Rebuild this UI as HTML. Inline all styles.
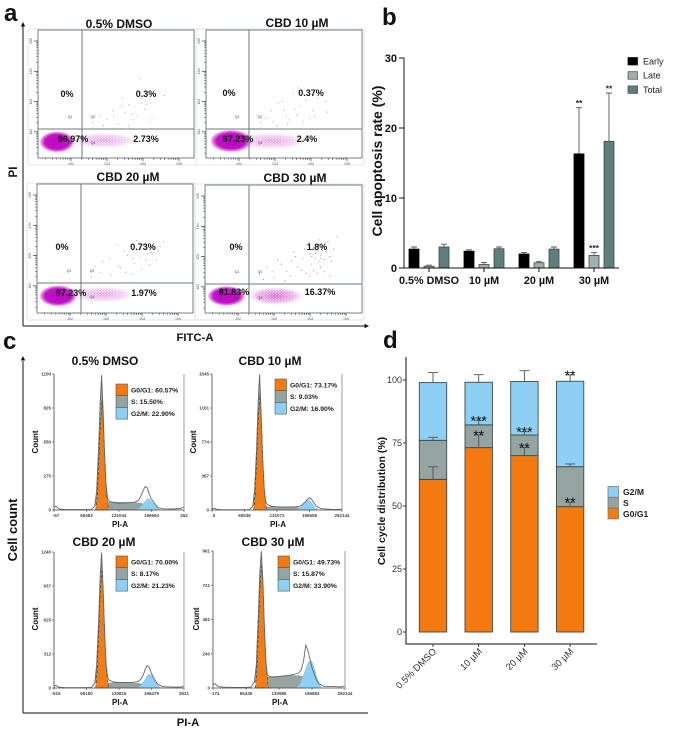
<!DOCTYPE html>
<html lang="en">
<head>
<meta charset="utf-8">
<title>CBD apoptosis and cell cycle figure</title>
<style>
html,body{margin:0;padding:0;background:#fff;width:680px;height:732px;overflow:hidden}
svg{display:block;font-family:"Liberation Sans",Arial,sans-serif;filter:blur(.3px)}
</style>
</head>
<body>
<svg id="fig" width="680" height="732" viewBox="0 0 680 732" xmlns="http://www.w3.org/2000/svg">
<defs>
<radialGradient id="coreGrad"><stop offset="0" stop-color="#bb08c4"/><stop offset=".68" stop-color="#c212c6"/><stop offset=".86" stop-color="#d85fd6" stop-opacity=".75"/><stop offset="1" stop-color="#e6a6e4" stop-opacity="0"/></radialGradient>
<radialGradient id="tailGrad"><stop offset="0" stop-color="#cf3fcc" stop-opacity=".85"/><stop offset=".65" stop-color="#d86dd6" stop-opacity=".55"/><stop offset="1" stop-color="#e6a6e4" stop-opacity="0"/></radialGradient>
<pattern id="speckle" width="3" height="2.6" patternUnits="userSpaceOnUse"><circle cx=".8" cy=".7" r=".55" fill="#fff"/><circle cx="2.3" cy="2" r=".45" fill="#fff"/></pattern>
</defs>
<g font-weight="bold" font-size="24" fill="#111">
<text x="4" y="21">a</text>
<text x="382" y="25">b</text>
<text x="3" y="349">c</text>
<text x="383" y="348">d</text>
</g>
<g fill="#111" stroke="none">
<path d="M23 326V26" stroke="#111" stroke-width="1" fill="none"/>
<path d="M23 22l-2.2 4.5h4.4z"/>
<path d="M23 326H365" stroke="#111" stroke-width="1" fill="none"/>
<path d="M369 326l-4.5-2.2v4.4z"/>
<text transform="translate(17,172) rotate(-90)" text-anchor="middle" font-weight="bold" font-size="11.5">PI</text>
<text x="195" y="341" text-anchor="middle" font-weight="bold" font-size="11.3">FITC-A</text>
</g>
<g fill="#111" stroke="none">
<path d="M23 713V361" stroke="#111" stroke-width="1" fill="none"/>
<path d="M23 356l-2.2 4.5h4.4z"/>
<path d="M23 713H368" stroke="#111" stroke-width="1" fill="none"/>
<text transform="translate(17,530) rotate(-90)" text-anchor="middle" font-weight="bold" font-size="13">Cell count</text>
<text x="188" y="726" text-anchor="middle" font-weight="bold" font-size="11.3">PI-A</text>
</g>
<g id="flow"></g>
<g id="hist"></g>
<g id="apop"></g>
<g id="cycle"></g>
</svg>
<script>
/* ---------- panel b data ---------- */
var apopGroups = ['0.5% DMSO', '10 µM', '20 µM', '30 µM'];
var apopSeries = ['Early', 'Late', 'Total'];
var apopEarly = [2.7, 2.4, 2.0, 16.3];
var apopLate = [0.25, 0.5, 0.75, 1.8];
var apopTotal = [3.0, 2.75, 2.7, 18.1];
var apopEarlyErr = [0.3, 0.2, 0.2, 6.6];
var apopLateErr = [0.15, 0.3, 0.15, 0.4];
var apopTotalErr = [0.4, 0.25, 0.3, 6.9];
var apopEarlyStars = ['', '', '', '**'];
var apopLateStars = ['', '', '', '***'];
var apopTotalStars = ['', '', '', '**'];
var apopTicks = [0, 10, 20, 30];

/* ---------- panel d data ---------- */
var cycleGroups = ['0.5% DMSO', '10 µM', '20 µM', '30 µM'];
var cycleG1 = [60.57, 73.17, 70.0, 49.73];
var cycleS = [15.5, 9.03, 8.17, 15.87];
var cycleG2 = [22.9, 16.9, 21.23, 33.9];
var cycleG1Err = [5, 5, 3.2, 1.8];
var cycleSErr = [1.2, 1.8, 1.3, 1.1];
var cycleG2Err = [4, 3, 4.3, 2.5];
var cycleG1Stars = ['', '**', '**', '**'];
var cycleSStars = ['', '***', '***', ''];
var cycleG2Stars = ['', '', '', '**'];
var cycleTicks = [0, 25, 50, 75, 100];
var cycleLegend = ['G2/M', 'S', 'G0/G1'];

/* ---------- panel a data (log10 decades) ---------- */
var flowTitles = ['0.5% DMSO', 'CBD 10 µM', 'CBD 20 µM', 'CBD 30 µM'];
var flowQ1 = ['0%', '0%', '0%', '0%'];
var flowQ2 = ['0.3%', '0.37%', '0.73%', '1.8%'];
var flowQ3 = ['96.97%', '97.23%', '97.23%', '81.83%'];
var flowQ4 = ['2.73%', '2.4%', '1.97%', '16.37%'];
var flowCoreX = [1.61, 1.78, 1.67, 1.68];
var flowCoreY = [1.67, 1.7, 1.67, 1.7];
var flowCoreRx = [0.5, 0.6, 0.54, 0.54];
var flowCoreRy = [0.36, 0.38, 0.36, 0.34];
var flowTailX = [2.9, 2.9, 2.9, 3.05];
var flowTailY = [1.72, 1.7, 1.72, 1.7];
var flowTailRx = [0.95, 1.0, 0.95, 0.8];
var flowTailRy = [0.26, 0.28, 0.27, 0.3];
var flowTailAlpha = [0.6, 0.6, 0.6, 1];
var flowDotsX = [
  [3.44,3.40,3.95,4.10,4.60,3.90,3.70,3.00,3.20,3.50,3.75,3.85,4.05,2.60,2.90,3.30,3.60,4.20,3.60,2.80,3.15,3.95,4.25],
  [2.90,3.10,3.30,3.50,3.55,3.70,3.85,3.95,4.05,4.20,4.35,4.40,2.60,2.75,3.05,3.25,3.40,3.60,3.80,4.10,3.20,2.50,3.65,3.95,4.45,3.35,2.95],
  [2.90,3.10,3.35,3.50,3.60,3.80,3.90,4.05,4.15,4.25,4.35,4.50,4.60,3.95,4.10,4.30,2.60,2.85,3.15,3.40,3.70,4.00,4.45,3.30,3.55,3.75,4.20,2.70,4.40,3.85],
  [2.60,2.80,3.00,3.20,3.35,3.50,3.65,3.80,3.90,4.00,4.05,4.10,4.15,4.20,4.25,4.30,4.35,4.40,4.45,4.50,4.55,4.65,4.75,2.70,2.95,3.10,3.30,3.45,3.60,3.75,3.85,4.00,4.10,4.20,4.30,4.40,4.55,3.55,3.95,4.25,4.05,4.35,4.15,4.30,4.45,4.60]
];
var flowDotsY = [
  [3.12,2.85,2.95,2.90,3.20,3.75,2.60,2.40,2.50,2.65,2.40,2.50,2.75,2.30,2.20,2.25,2.20,2.30,2.90,2.55,2.70,3.10,2.45],
  [2.70,2.95,2.50,3.25,2.75,2.85,3.05,3.20,2.70,3.10,3.30,3.00,2.30,2.45,2.20,2.70,2.40,2.55,2.35,2.50,3.00,2.55,3.45,2.45,2.65,2.25,2.35],
  [2.80,2.90,2.65,3.15,3.00,2.75,3.20,3.35,3.05,3.10,3.25,3.30,3.45,2.95,2.85,3.05,2.30,2.45,2.35,2.60,2.40,2.55,3.15,3.35,2.45,2.90,2.70,2.65,2.85,3.50],
  [2.40,2.65,2.30,2.75,2.50,2.85,2.65,2.95,2.45,3.10,2.75,3.30,2.95,3.20,2.85,3.05,3.35,2.90,3.15,3.50,3.00,3.25,3.65,2.25,2.50,2.90,2.20,2.35,3.00,2.55,3.25,2.35,2.55,2.45,2.65,2.50,2.35,3.15,3.45,3.55,3.00,3.20,3.10,2.95,3.35,2.85]
];

/* ---------- panel c data (PI-A in thousands, count per channel) ---------- */
var histTitles = ['0.5% DMSO', 'CBD 10 µM', 'CBD 20 µM', 'CBD 30 µM'];
var histLegendG1 = ['G0/G1: 60.57%', 'G0/G1: 73.17%', 'G0/G1: 70.00%', 'G0/G1: 49.73%'];
var histLegendS = ['S: 15.50%', 'S: 9.03%', 'S: 8.17%', 'S: 15.87%'];
var histLegendG2 = ['G2/M: 22.90%', 'G2/M: 16.90%', 'G2/M: 21.23%', 'G2/M: 33.90%'];
var histMax = [1100, 1545, 1240, 961];
var histYTicks = [['0','275','550','825','1100'], ['0','387','774','1161','1545'], ['0','312','625','937','1240'], ['0','240','481','721','961']];
var histXTicks = [['-57','65493','131044','196594','262'], ['0','65536','131072','196608','262144'], ['-515','65150','130815','196479','2621'], ['-174','65435','130985','196584','262144']];
var piGrid = [0,4,10,20,40,60,75,82,86,90,93,96,99,102,105,108,112,120,130,140,150,160,170,175,180,184,188,192,196,200,205,210,220,240,255,262];
var histOutline = [
  [25,30,8,4,3,3,5,30,150,500,850,1090,800,450,200,90,70,60,55,55,60,60,75,110,160,190,180,130,90,70,40,20,10,8,12,25],
  [15,20,6,3,2,2,4,40,220,700,1200,1540,1100,600,260,100,60,42,38,35,35,35,38,42,50,70,90,120,140,125,85,45,15,8,6,10],
  [20,25,6,4,3,3,5,40,200,600,1000,1235,900,500,220,95,70,55,50,50,50,52,58,80,120,170,205,190,140,100,60,30,12,8,8,15],
  [25,30,10,6,4,4,6,40,160,500,800,958,750,420,180,90,80,78,80,85,88,95,105,125,190,300,270,210,150,110,60,30,12,10,8,15]
];
var g1Grid = [84,87,90,93,97,100,103,106,110];
var g1Model = [
  [0,100,350,650,890,620,330,120,0],
  [0,170,550,1000,1330,950,500,170,0],
  [0,150,480,850,1110,800,420,140,0],
  [0,120,400,680,880,640,350,130,0]
];
var sGrid = [84,92,100,105,120,140,160,175,185,195,205];
var sModel = [
  [0,20,40,62,65,62,60,55,40,15,0],
  [0,12,22,32,36,35,33,28,18,6,0],
  [0,15,30,42,48,48,46,40,28,10,0],
  [0,30,60,75,80,85,88,85,65,25,0]
];
var g2Grid = [165,172,178,184,190,196,202,208,215];
var g2Model = [
  [0,15,40,70,95,75,45,20,0],
  [0,8,30,65,110,115,75,30,0],
  [0,12,40,80,125,120,70,25,0],
  [0,25,70,135,185,190,130,55,0]
];

var NS = 'http://www.w3.org/2000/svg';
function mk(tag, attrs, parent) {
  var el = document.createElementNS(NS, tag);
  for (var k in attrs) { el.setAttribute(k, attrs[k]); }
  parent.appendChild(el);
  return el;
}
function label(str, x, y, size, weight, anchor, fill, parent, rot) {
  var a = {x: x, y: y, 'font-size': size, 'font-weight': weight, 'text-anchor': anchor, fill: fill};
  if (rot) { a = {transform: 'translate(' + x + ',' + y + ') rotate(' + rot + ')', 'font-size': size, 'font-weight': weight, 'text-anchor': anchor, fill: fill}; }
  var el = mk('text', a, parent);
  el.textContent = str;
  return el;
}

/* ---------- panel a ---------- */
(function () {
  var root = document.getElementById('flow');
  var frames = [[38,30,194,158,82,129],[206,30,362,158,249,129],[37,184,193,313,81,283],[205,185,362,313,249,284]];
  var titleX = [119, 297, 128, 295];
  var titleY = [28, 27, 181, 182];
  var q1Off = [[29,-35],[24,-36],[25,-36],[31,-37]];
  var q2Off = [[64,-35],[62,-36],[62,-36],[68,-37]];
  var q3Off = [[-9,10],[-11,10],[-10,10],[-15,8]];
  var q4Off = [[64,10],[58,10],[63,10],[71,8]];
  frames.forEach(function (f, p) {
    var L = f[0], T = f[1], R = f[2], B = f[3], gx = f[4], gy = f[5];
    var fx = function (d) { return L + 33 + (d - 2) * 36; };
    var fy = function (d) { return T + 11 + (5 - d) * 30.3; };
    var g = mk('g', {}, root);
    
    
    var outer = mk('rect', {x: L - 10, y: T - 1, width: R - L + 12, height: B - T + 8, fill: 'none', stroke: '#dedede', 'stroke-width': 0.8}, g);
    
    
    var title = label(flowTitles[p], titleX[p], titleY[p], 12, 'bold', 'middle', '#111', g);
    
    
    var tail = mk('ellipse', {cx: fx(flowTailX[p]), cy: fy(flowTailY[p]), rx: flowTailRx[p] * 36, ry: flowTailRy[p] * 30.3, fill: 'url(#tailGrad)', opacity: flowTailAlpha[p]}, g);
    
    
    var speck = mk('ellipse', {cx: fx(flowTailX[p]), cy: fy(flowTailY[p]), rx: flowTailRx[p] * 36, ry: flowTailRy[p] * 30.3, fill: 'url(#speckle)'}, g);
    
    
    var core = mk('ellipse', {cx: fx(flowCoreX[p]), cy: fy(flowCoreY[p]), rx: flowCoreRx[p] * 36, ry: flowCoreRy[p] * 30.3, fill: 'url(#coreGrad)'}, g);
    
    
    flowDotsX[p].forEach(function (dx, i) {
      var dot = mk('circle', {cx: fx(dx), cy: fy(flowDotsY[p][i]), r: 0.55, fill: p === 3 ? '#b060ae' : '#a88fa6'}, g);
      
      
    });
    var frame = mk('rect', {x: L, y: T, width: R - L, height: B - T, fill: 'none', stroke: '#74807f', 'stroke-width': 1}, g);
    
    
    var vg = mk('line', {x1: gx, x2: gx, y1: T, y2: B, stroke: '#6c7877', 'stroke-width': 1}, g);
    
    
    var hg = mk('line', {x1: L, x2: R, y1: gy, y2: gy, stroke: '#6c7877', 'stroke-width': 1}, g);
    
    
    [2, 3, 4, 5].forEach(function (dec) {
      var tx = mk('line', {x1: fx(dec), x2: fx(dec), y1: B, y2: B + 3, stroke: '#333', 'stroke-width': 0.7}, g);
      
      
      var lx = label('10' + dec, fx(dec), B + 7, 3.6, 'normal', 'middle', '#555', g);
      
      
      var ty = mk('line', {x1: L - 4, x2: L, y1: fy(dec), y2: fy(dec), stroke: '#333', 'stroke-width': 0.7}, g);
      
      
      var ly = label('10' + dec, L - 6, fy(dec), 3.6, 'normal', 'middle', '#555', g, -90);
      
      
      [0.3, 0.48, 0.6, 0.7, 0.78, 0.85, 0.9, 0.95].forEach(function (m) {
        if (dec < 5) {
          var mt = mk('line', {x1: fx(dec + m), x2: fx(dec + m), y1: B, y2: B + 1.8, stroke: '#444', 'stroke-width': 0.5}, g);
          
          
        }
        var mb = mk('line', {x1: fx(dec - 1 + m), x2: fx(dec - 1 + m), y1: B, y2: B + 1.8, stroke: '#444', 'stroke-width': 0.5}, g);
        
        
        var my = mk('line', {x1: L - 2, x2: L, y1: fy(dec - 1 + m), y2: fy(dec - 1 + m), stroke: '#444', 'stroke-width': 0.5}, g);
        
        
      });
    });
    var names = ['Q1', 'Q2', 'Q3', 'Q4'];
    var px = [gx - 12, gx + 11, gx - 12, gx + 11];
    var py = [gy - 11, gy - 11, gy + 15, gy + 15];
    names.forEach(function (n, i) {
      var q = label(n, px[i], py[i], 3.6, 'normal', 'middle', '#444', g);
      
      
    });
    var a = label(flowQ1[p], gx + q1Off[p][0] - 44, gy + q1Off[p][1] + 3, 9, 'bold', 'middle', '#111', g);
    
    
    var b = label(flowQ2[p], gx + q2Off[p][0], gy + q2Off[p][1] + 3, 9, 'bold', 'middle', '#111', g);
    
    
    var c = label(flowQ3[p], gx + q3Off[p][0], gy + q3Off[p][1] + 3, 9, 'bold', 'middle', '#111', g);
    
    
    var d = label(flowQ4[p], gx + q4Off[p][0], gy + q4Off[p][1] + 3, 9, 'bold', 'middle', '#111', g);
    
    
  });
})();

/* ---------- panel c ---------- */
(function () {
  var root = document.getElementById('hist');
  var frames = [[54,374,184,510],[212,374,342,510],[54,552,184,688],[213,551,345,688]];
  var titlePos = [[105,365],[270,365],[104,546],[273,546]];
  var legendPos = [[116,384],[275,379],[116,556],[278,556]];
  var countPos = [[38,442],[196,442],[38,619],[199,619]];
  var piaPos = [[120,527],[278,527],[120,705],[280,705]];
  frames.forEach(function (f, p) {
    var L = f[0], T = f[1], R = f[2], B = f[3];
    var hx = function (k) { return L + k / 262.144 * (R - L); };
    var hy = function (c) { return B - c / histMax[p] * (B - T); };
    var g = mk('g', {}, root);
    
    
    var area = function (xs, ys) {
      var d = '';
      xs.forEach(function (x, i) { d += (i ? 'L' : 'M') + hx(x).toFixed(1) + ' ' + hy(ys[i]).toFixed(1); });
      return d;
    };
    var peakX = piGrid.filter(function (k) { return k >= 82 && k <= 108; });
    var peakY = histOutline[p].filter(function (c, i) { return piGrid[i] >= 82 && piGrid[i] <= 108; });
    var peakFill = mk('path', {d: area(peakX, peakY) + 'Z', fill: '#9aa5a4'}, g);
    
    
    var sFill = mk('path', {d: area(sGrid, sModel[p]) + 'Z', fill: '#95a3a1', stroke: '#7f8c8a', 'stroke-width': 0.4}, g);
    
    
    var g2Fill = mk('path', {d: area(g2Grid, g2Model[p]) + 'Z', fill: '#8ecff5', stroke: '#79b4d6', 'stroke-width': 0.4}, g);
    
    
    var g1Fill = mk('path', {d: area(g1Grid, g1Model[p]) + 'Z', fill: '#f47a10', 'fill-opacity': 0.95, stroke: '#222', 'stroke-width': 0.5, 'stroke-dasharray': '3 2'}, g);
    
    
    var line = mk('path', {d: area(piGrid, histOutline[p]), fill: 'none', stroke: '#666', 'stroke-width': 0.9}, g);
    
    
    var ax = mk('path', {d: 'M' + L + ' ' + T + 'V' + B + 'H' + R, fill: 'none', stroke: '#444', 'stroke-width': 0.8}, g);
    
    
    var right = mk('line', {x1: R, x2: R, y1: T, y2: B, stroke: '#a4a8a8', 'stroke-width': 1.1}, g);
    
    
    histYTicks[p].forEach(function (tl, i) {
      var y = B - i / 4 * (B - T);
      var tk = mk('line', {x1: L - 2, x2: L, y1: y, y2: y, stroke: '#444', 'stroke-width': 0.6}, g);
      
      
      var tt = label(tl, L - 3, y + 1.6, 4.5, 'bold', 'end', '#444', g);
      
      
    });
    histXTicks[p].forEach(function (tl, i) {
      var x = L + i / 4 * (R - L);
      var tk = mk('line', {x1: x, x2: x, y1: B, y2: B + 2, stroke: '#444', 'stroke-width': 0.6}, g);
      
      
      var tt = label(tl, x + (i === 0 ? 2 : 0), B + 7, 4.5, 'bold', 'middle', '#444', g);
      
      
    });
    var title = label(histTitles[p], titlePos[p][0], titlePos[p][1], 12, 'bold', 'middle', '#111', g);
    
    
    var count = label('Count', countPos[p][0], countPos[p][1], 8, 'bold', 'middle', '#111', g, -90);
    
    
    var pia = label('PI-A', piaPos[p][0], piaPos[p][1], 8, 'bold', 'middle', '#111', g);
    
    
    var lx = legendPos[p][0], ly = legendPos[p][1];
    var swatches = ['#f47a10', '#95a3a1', '#8ecff5'];
    var texts = [histLegendG1[p], histLegendS[p], histLegendG2[p]];
    swatches.forEach(function (col, i) {
      var sw = mk('rect', {x: lx, y: ly + i * 11.7, width: 11.5, height: 11.7, fill: col, stroke: '#4c5a5a', 'stroke-width': 0.6}, g);
      
      
      var te = label(texts[i], lx + 15, ly + 8.3 + i * 11.9, 6.8, 'bold', 'start', '#222', g);
      
      
    });
  });
})();

/* ---------- panel b ---------- */
(function () {
  var root = document.getElementById('apop');
  var by = function (v) { return 268 - v / 30 * 210; };
  var bx = function (g, s) { return 414 + g * 55 + s * 15; };
  var fills = ['#000000', '#9fb0af', '#5f7f7f'];
  var vals = [apopEarly, apopLate, apopTotal];
  var errs = [apopEarlyErr, apopLateErr, apopTotalErr];
  var stars = [apopEarlyStars, apopLateStars, apopTotalStars];
  apopGroups.forEach(function (name, g) {
    vals.forEach(function (series, s) {
      var x = bx(g, s);
      var v = series[g], e = errs[s][g];
      var eb = mk('path', {d: 'M' + x + ' ' + by(v) + 'V' + by(v + e) + 'M' + (x - 3) + ' ' + by(v + e) + 'H' + (x + 3), stroke: '#555', 'stroke-width': 0.9, fill: 'none'}, root);
      
      
      var bar = mk('rect', {x: x - 5, y: by(v), width: 10, height: by(0) - by(v), fill: fills[s], stroke: s ? '#3a4a4a' : '#000', 'stroke-width': 0.8}, root);
      
      
      if (stars[s][g]) {
        var st = label(stars[s][g], x, by(v + e) - 1.5, 8.5, 'bold', 'middle', '#222', root);
        
        
      }
    });
    var cx = bx(g, 1);
    var tk = mk('line', {x1: cx, x2: cx, y1: 268, y2: 272, stroke: '#111', 'stroke-width': 1}, root);
    
    
    var tl = label(name, cx, 284, 10.8, 'bold', 'middle', '#111', root);
    
    
  });
  var axis = mk('path', {d: 'M404 ' + by(30) + 'V268H619', fill: 'none', stroke: '#111', 'stroke-width': 1}, root);
  
  
  apopTicks.forEach(function (t) {
    var tk = mk('line', {x1: 399, x2: 404, y1: by(t), y2: by(t), stroke: '#111', 'stroke-width': 1}, root);
    
    
    var tl = label(String(t), 397, by(t) + 4, 11, 'bold', 'end', '#111', root);
    
    
  });
  var yt = label('Cell apoptosis rate (%)', 382, 161, 14, 'bold', 'middle', '#111', root, -90);
  
  
  apopSeries.forEach(function (n, i) {
    var sw = mk('rect', {x: 628, y: 57.5 + i * 14.2, width: 9.5, height: 7.5, fill: fills[i], stroke: i ? '#3a4a4a' : '#000', 'stroke-width': 0.7}, root);
    
    
    var te = label(n, 643, 64.5 + i * 14.2, 9, 'normal', 'start', '#222', root);
    
    
  });
})();

/* ---------- panel d ---------- */
(function () {
  var root = document.getElementById('cycle');
  var cy = function (v) { return 632 - v * 2.52; };
  var cx = function (g) { return 433 + g * 45.7; };
  var colors = {g1: '#f47a10', s: '#95a3a1', g2: '#8ecff5'};
  cycleGroups.forEach(function (name, g) {
    var x = cx(g);
    var base1 = cycleG1[g], base2 = base1 + cycleS[g], base3 = base2 + cycleG2[g];
    var bars = [
      [0, base1, colors.g1, cycleG1Err[g], cycleG1Stars[g]],
      [base1, base2, colors.s, cycleSErr[g], cycleSStars[g]],
      [base2, base3, colors.g2, cycleG2Err[g], cycleG2Stars[g]]
    ];
    bars.forEach(function (b) {
      var rect = mk('rect', {x: x - 13.7, y: cy(b[1]), width: 27.4, height: cy(b[0]) - cy(b[1]), fill: b[2], stroke: '#3d4a4a', 'stroke-width': 0.9}, root);
      
      
    });
    bars.forEach(function (b) {
      var top = cy(b[1] + b[3]);
      var eb = mk('path', {d: 'M' + x + ' ' + cy(b[1]) + 'V' + top + 'M' + (x - 5) + ' ' + top + 'H' + (x + 5), stroke: '#4a5555', 'stroke-width': 0.9, fill: 'none'}, root);
      
      
      if (b[4]) {
        var st = label(b[4], x, top + 5, 14, 'normal', 'middle', '#111', root);
        
        
      }
    });
    var tk = mk('line', {x1: x, x2: x, y1: 644, y2: 647, stroke: '#111', 'stroke-width': 0.8}, root);
    
    
    var tl = label(name, x + 4, 652, 9.5, 'normal', 'end', '#333', root, -45);
    
    
  });
  var axis = mk('path', {d: 'M406 357V644H597', fill: 'none', stroke: '#111', 'stroke-width': 1}, root);
  
  
  cycleTicks.forEach(function (t) {
    var tk = mk('line', {x1: 403, x2: 406, y1: cy(t), y2: cy(t), stroke: '#111', 'stroke-width': 0.8}, root);
    
    
    var tl = label(String(t), 402, cy(t) + 3.2, 9, 'normal', 'end', '#333', root);
    
    
  });
  var yt = label('Cell cycle distribution (%)', 385, 501, 10.5, 'bold', 'middle', '#111', root, -90);
  
  
  var legendColors = [colors.g2, colors.s, colors.g1];
  cycleLegend.forEach(function (n, i) {
    var sw = mk('rect', {x: 608, y: 486.5 + i * 10.8, width: 10.5, height: 10.8, fill: legendColors[i], stroke: '#6b7776', 'stroke-width': 0.7}, root);
    
    
    var te = label(n, 623, 495 + i * 11, 8.6, 'bold', 'start', '#222', root);
    
    
  });
})();
</script>
</body>
</html>
